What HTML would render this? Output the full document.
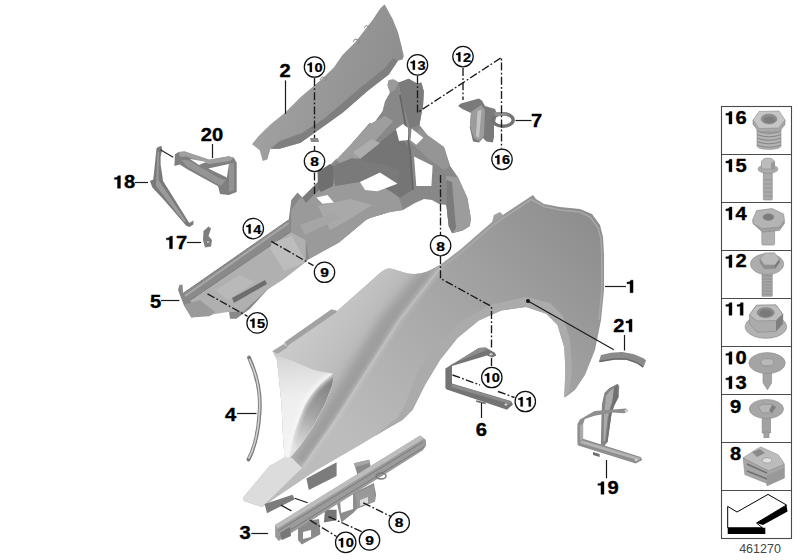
<!DOCTYPE html>
<html><head><meta charset="utf-8">
<style>
html,body{margin:0;padding:0;background:#fff;}
body{width:800px;height:560px;overflow:hidden;}
svg{display:block;}
.lb{font-family:"Liberation Sans",sans-serif;font-weight:bold;fill:#000;stroke:#000;stroke-width:0.35;}
.ln{stroke:#1a1a1a;stroke-width:1.2;fill:none;}
.dd{stroke:#1a1a1a;stroke-width:1.35;fill:none;stroke-dasharray:8 2.2 1.8 2.2;}
.cc{fill:#fff;stroke:#111;stroke-width:1.25;}
</style></head><body>
<svg width="800" height="560" viewBox="0 0 800 560">

<defs>
<filter id="blur2" x="-20%" y="-20%" width="140%" height="140%"><feGaussianBlur stdDeviation="2"/></filter>
<filter id="blur4" x="-30%" y="-30%" width="160%" height="160%"><feGaussianBlur stdDeviation="4"/></filter>
<linearGradient id="gCres" gradientUnits="userSpaceOnUse" x1="332" y1="380" x2="296" y2="450">
<stop offset="0" stop-color="#7e7e7e"/><stop offset="0.5" stop-color="#a4a4a4"/><stop offset="1" stop-color="#e0e0e0"/>
</linearGradient>
<linearGradient id="gFace" gradientUnits="userSpaceOnUse" x1="280" y1="355" x2="290" y2="460">
<stop offset="0" stop-color="#d4d4d4"/><stop offset="0.4" stop-color="#eeeeee"/><stop offset="1" stop-color="#f4f4f4"/>
</linearGradient>
<linearGradient id="gMain" gradientUnits="userSpaceOnUse" x1="600" y1="230" x2="360" y2="450">
<stop offset="0" stop-color="#8e8e8e"/><stop offset="0.45" stop-color="#a4a4a4"/><stop offset="1" stop-color="#bcbcbc"/>
</linearGradient>
<linearGradient id="gFront" gradientUnits="userSpaceOnUse" x1="375" y1="370" x2="300" y2="320">
<stop offset="0" stop-color="#b0b0b0"/><stop offset="0.5" stop-color="#c0c0c0"/><stop offset="1" stop-color="#cbcbcb"/>
</linearGradient>
<linearGradient id="gFlange" gradientUnits="userSpaceOnUse" x1="280" y1="360" x2="330" y2="470">
<stop offset="0" stop-color="#c8c8c8"/><stop offset="1" stop-color="#d9d9d9"/>
</linearGradient>
<linearGradient id="gScoop" gradientUnits="userSpaceOnUse" x1="330" y1="385" x2="300" y2="405">
<stop offset="0" stop-color="#a0a0a0"/><stop offset="0.5" stop-color="#e8e8e8"/><stop offset="1" stop-color="#ffffff"/>
</linearGradient>
<linearGradient id="gPanel" gradientUnits="userSpaceOnUse" x1="190" y1="310" x2="440" y2="100">
<stop offset="0" stop-color="#989898"/><stop offset="1" stop-color="#7c7c7c"/>
</linearGradient>
<linearGradient id="gP2" gradientUnits="userSpaceOnUse" x1="260" y1="80" x2="400" y2="120">
<stop offset="0" stop-color="#a2a2a2"/><stop offset="1" stop-color="#8c8c8c"/>
</linearGradient>
<linearGradient id="gBox" x1="0" y1="0" x2="1" y2="0">
<stop offset="0" stop-color="#8a8a8a"/><stop offset="0.45" stop-color="#c8c8c8"/><stop offset="1" stop-color="#8a8a8a"/>
</linearGradient>
</defs>

<!-- ========== Part 1 fender ========== -->
<path fill="url(#gMain)" d="M272.5,351.3 L283.1,344.4 L285,341.9 L331.3,309.4 L336.9,311.3 L380,273 C384,269.5 387,268.3 390,268.5 C395,269 400,271.5 406,273 C412,274.5 420,274.2 426,272 C432,269.5 436,267 441,264.2 L460,249.8 L492,222 L530,197 L533,195 L536,199 L544,204 L560,207 L580,209 L592,214 L600,225 L603,237 L604,255 L604,290 L601,320 L595,350 L585,375 L575,390 L565,397.5 L564.3,397 L565.4,370 L564.3,347.5 L557.5,325 L546.3,313.8 L526,307 L501.3,310.4 L478.8,320.5 L457.5,338 L440,360 L425,385 L412.5,410 L402.5,420 L385,430 L360,445 L316,470.4 L262,507 L244,501 L243,497.7 L270,465.5 L284.7,459 L283,436.5 L281.5,404 L278.3,372 L276.7,359 Z"/>
<path fill="#a0a0a0" d="M492,222 L494,215 L500,212 L504,216 L499,219 Z"/>
<path fill="none" stroke="#acacac" stroke-width="1.6" opacity="0.85" d="M442,267 L461,253 L493,225 L531,199.5 L536,202 L544,206.5 L560,210 L580,212 L590,217 L598,227.5 L601,239 L601.8,255 L601.8,290 L599,320"/>
<!-- front section left of crease -->
<path fill="url(#gFront)" d="M272.5,351.3 L283.1,344.4 L285,341.9 L331.3,309.4 L336.9,311.3 L380,273 C384,269.5 387,268.3 390,268.5 C395,269 400,271.5 406,273 C412,274.5 420,274.2 426,272 C432,269.5 436,267 441,264.2 L398.5,319.6 L366,370.6 L333.5,421.7 L301,468 L262,507 L244,501 L243,497.7 L270,465.5 L284.7,459 L283,436.5 L281.5,404 L278.3,372 L276.7,359 Z"/>
<clipPath id="cpFront"><path d="M272.5,351.3 L283.1,344.4 L285,341.9 L331.3,309.4 L336.9,311.3 L380,273 C384,269.5 387,268.3 390,268.5 C395,269 400,271.5 406,273 C412,274.5 420,274.2 426,272 C432,269.5 436,267 441,264.2 L398.5,319.6 L366,370.6 L333.5,421.7 L301,468 L262,507 L244,501 L243,497.7 L270,465.5 L284.7,459 L283,436.5 L281.5,404 L278.3,372 L276.7,359 Z"/></clipPath>
<g clip-path="url(#cpFront)">
<path fill="#8a8a8a" opacity="0.55" filter="url(#blur4)" d="M444,262 L400,322 L368,372 L336,422 L306,466 L292,462 L320,416 L350,366 L380,318 L420,270 Z"/>
</g>
<!-- crease highlight -->
<path fill="none" stroke="#c8c8c8" stroke-width="2.5" filter="url(#blur2)" d="M441,267 L399.5,320 L367,371 L334.5,422 L302,468.5"/><path fill="none" stroke="#c6c6c6" stroke-width="1" d="M441,267 L399.5,320 L367,371 L334.5,422 L302,468.5"/>
<!-- front flange light face -->
<clipPath id="cpFace"><path d="M276.7,356 L290,360 L313.9,370 L334,374 L332,386 L325,404 L313,427 L300,446 L289,459 L284.7,462 L283,436.5 L281.5,404 L278.3,372 Z"/></clipPath>
<path fill="url(#gFace)" d="M276.7,356 L290,360 L313.9,370 L334,374 L332,386 L325,404 L313,427 L300,446 L289,459 L284.7,462 L283,436.5 L281.5,404 L278.3,372 Z"/>
<g clip-path="url(#cpFace)">
<path fill="url(#gCres)" d="M336,372 L332,386 L325,404 L313,427 L300,446 L289,459 C290,445 296,425 305,405 C312,392 322,381 336,372 Z"/>
<path fill="none" stroke="#f6f6f6" stroke-width="5" opacity="0.9" filter="url(#blur2)" d="M287,458 C289,444 294,426 303,406 C310,392 320,381 334,373"/>
</g>
<!-- lower wedge -->
<path fill="#dcdcdc" d="M270,465.5 L284.4,457 L292,458 L302,468 L262,507 L244,501 L243,497.7 Z"/>
<!-- arch lip -->
<path fill="#ababab" d="M564.3,397 L565.4,370 L564.3,347.5 L557.5,325 L546.3,313.8 L526,307 L501.3,310.4 L478.8,320.5 L457.5,338 L440,360 L425,385 L412.5,410 L402.5,420 L385,430 L375,436 L397.5,417.5 L405,405 L420,367.5 L442.5,340 L460,322 L490,304.8 L526,297 L550,303 L563,316 L570,340 L572,370 L569,392 Z"/>
<!-- top flange -->
<path fill="#a2a2a2" d="M285,341.9 L331.3,309.4 L336.3,310.6 L336.9,311.9 L286.9,346.3 Z"/><path fill="#a6a6a6" d="M272.5,351.3 L283.1,344.4 L288.1,346.9 L277.5,353.8 Z"/>
<!-- dark tabs under fender bottom -->
<path fill="#7c7c7c" d="M264.6,504 L292.5,494.7 L294.8,499.3 L267,513.2 Z M306.4,478.4 L336.6,462.2 L336.6,476.1 L308.8,490 Z"/>
<!-- ========== Part 2 ========== -->
<path fill="url(#gP2)" d="M384.4,4.4 L380,8.8 L372.5,20 L366.3,28.1 L360,36.3 L355,42.5 L342.5,55 L333.8,67.5 L322,79 L300.7,97 L285.5,112.3 L270.4,124.5 L258.2,136.6 L252,144.2 L259.7,150.3 L262.8,161 L267.3,159.4 L270.4,148.8 L279.5,148.8 L300.7,142.7 L322,127.5 L343.2,112.3 L367.5,91 L388.8,74.4 L397.9,60.7 L402.5,59.4 L403.8,56.3 L401.9,47.5 L398.1,32.5 L392.5,18.8 L385,5 Z"/>
<path fill="#7f7f7f" d="M397.9,60.7 L388.8,74.4 L367.5,91 L343.2,112.3 L322,127.5 L300.7,142.7 L279.5,148.8 L270.4,148.8 L280,141 L302,133 L325,118 L360,88 L385,68 L393,58 Z"/>
<path fill="none" stroke="#8a8a8a" stroke-width="1" d="M364,28 L366,25.5 L370,27 L368,30 M353,42 L355,39 L360,40.5 L358,44 M320,80 L322,77 L327,78 L325,81"/>

<!-- ========== inner panel ========== -->
<path fill="#888888" d="M179.4,285 L182.5,284.4 L183,293 L186.3,293.8 L235,260 L288.6,220.4 L291.3,200 L297.5,192.5 L302.5,197.5 L320,180 L322.5,172.5 L336.3,158.8 L343.8,162.5 L352.5,155 L352.5,142.5 L370,122.5 L372.5,125 L382.5,111.3 L385,101.3 L390,92.5 L387.5,85 L388.8,80 L393.8,79.4 L398.8,82.5 L408.8,78.8 L412.5,81.3 L417.5,83.8 L421.3,82.5 L423.8,91.3 L423.1,105 L419.4,125 L427.8,135.5 L444,147.1 L450,165.7 L458,177.3 L467.4,198.1 L470.9,219 L469.8,226 L462.8,230.6 L452.2,233.2 L448.7,226 L446.4,205 L439,204 L432,200 L424,199 L415,203 L403,210 L390,212 L370,218 L366,220 L339,242.5 L309,259 L300,266 L285,275 L268.5,288.5 L250,308.8 L236.3,318.8 L230,318.8 L228.8,310 L213.8,313.8 L208.8,316.3 L203.8,315 L191.3,317.5 L183.8,305 L178,290 Z"/>
<!-- beam wall -->
<path fill="#8a8a8a" d="M183,293.8 L288.6,220.4 L291,232 L190,300.7 Z"/>
<path fill="none" stroke="#a8a8a8" stroke-width="2" d="M185,296 L288.6,223"/>
<path fill="none" stroke="#666" stroke-width="0.9" d="M183,293.5 L288.6,220"/>
<path fill="none" stroke="#6a6a6a" stroke-width="1" d="M190,300.7 L291,232"/>
<!-- beam floor -->
<path fill="#b0b0b0" d="M190,300.7 L291,232 L305.7,240 L305.7,262 L284,279 L267,290 L243.6,311.4 L228,312 L203,315.7 Z"/>
<path fill="#bdbdbd" d="M271.4,242.9 L292,236 L305.7,262.1 L284.3,270.7 L270.4,249.3 Z"/>
<path fill="#b9b9b9" d="M215,290 L240,275 L255,282 L228,300 Z"/>
<path fill="#6e6e6e" d="M232,298 L265,280 L267,284 L234,303 Z"/>
<path fill="#9a9a9a" d="M183.8,305 L200,300 L215,312 L208.8,316.3 L191.3,317.5 Z"/>
<!-- mid floor -->
<path fill="#9a9a9a" d="M300,198 L352,176 L398,194 L403,210 L390,212 L370,218 L366,220 L339,242.5 L309,259 L305.7,240 L291,232 L291.3,210 Z"/>
<path fill="#a9a9a9" d="M318,206 L350,199 L372,205 L345,222 L330,230 Z"/>
<path fill="#a6a6a6" d="M300,225 L335,212 L340,218 L305,235 Z"/>
<!-- dark plate -->
<path fill="#757575" d="M352,165 L395,130 L410,148 L412,190 L400,198 L372,178 Z"/>
<!-- upper ribs light -->
<path fill="#9e9e9e" d="M336,160 L352,143 L370,124 L385,116 L393,121 L376,140 L360,156 L346,167 Z"/>
<path fill="#adadad" d="M353,152 L372,139 L380,143 L360,159 Z"/>
<path fill="#7a7a7a" d="M302.5,197.5 L320,180 L324,185 L306,203 Z"/>
<!-- bracket 13 vertical plate -->
<path fill="#7b7b7b" d="M398.8,82.5 L408.8,78.8 L417.5,83.8 L421.3,82.5 L423.8,91.3 L423.1,105 L419.4,125 L410,128 L402,100 Z"/><path fill="#9a9a9a" d="M388.8,80 L393.8,79.4 L398.8,82.5 L395,90 L390,92.5 L387.5,85 Z"/>
<path fill="#959595" d="M420,128 L427.8,135.5 L444,147.1 L450,165.7 L444,170 L430,160 L408,140 Z"/>
<path fill="none" stroke="#666" stroke-width="1.8" d="M400,95 L410,150 L413,190"/>
<!-- right 8 bracket -->
<path fill="#9c9c9c" d="M446,176 L458,177.3 L467.4,198.1 L470.9,219 L469.8,226 L462.8,230.6 L452.2,233.2 L448.7,226 L446.4,205 Z"/>
<path fill="#7b7b7b" d="M446.4,180 L452,182 L456,228 L452.2,233.2 L448.7,226 L446.4,205 Z"/>
<path fill="#6f6f6f" d="M317.5,172 L330,164 L334,167 L333,186 L321,192 L318,188 Z"/>
<path fill="#7a7a7a" d="M333,166 L352,158 L385,165 L400,170 L397.5,183.8 L380,172.5 L360,182 L335,186 Z"/>
<!-- white openings -->
<path fill="#fff" d="M360,182 L380,172.5 L397.5,183.8 L377.5,191.3 L365,190 Z"/>
<path fill="#fff" d="M316.3,197.5 L327.5,195 L333.8,202.5 L322.5,203.8 Z"/>
<path fill="#fff" d="M396,129 L403,124 L408,128 L408,140 L399,141 Z"/>
<path fill="#fff" d="M411.6,128.6 L423.3,137.8 L416.3,144.8 L410.5,140.2 Z"/>
<path fill="#fff" d="M414,156.5 L432.6,165.7 L431.4,186 L416.3,186 Z"/>

<!-- ========== Part 20 ========== -->
<path fill="#7f7f7f" d="M174.9,154.3 L178.8,151.9 L184.7,151.4 L209.3,159.7 L228.9,156.3 L233.8,157.8 L236.7,162.7 L236.7,192.1 L228.9,195 L220,194.1 L218.1,186.2 L187.7,169.5 L179.8,164.6 L174.4,166.1 Z"/>
<path fill="#a0a0a0" d="M178.8,151.9 L184.7,151.4 L209.3,159.7 L228.9,156.3 L233.8,157.8 L230,161 L209,164 L186,156.5 L180,157 Z"/>
<path fill="#959595" d="M181,160 L188,160 L219,178 L226,180 L221,186 L187.7,167 Z"/>
<path fill="#fff" d="M189.6,158.7 L206,162 L199,165 Z"/>
<path fill="#fff" d="M208.3,168.6 L228.9,164.1 L226.9,177.4 Z"/>
<path fill="#939393" d="M229,163 L234,163 L234,190 L229,192 Z"/>
<!-- Part 18 -->
<path fill="#7a7a7a" d="M157.3,147.4 L161.4,145.7 L162.2,149.9 L160.6,156.4 L160.6,164.6 L163.1,181 L189.3,222.9 L193.4,220.5 L193.4,224.6 L189.3,227 L186,225.4 L164.7,200.8 L152.4,187.6 L149.9,181 L153.2,179.4 L154,172.8 L156.5,148.2 Z"/>
<path fill="#9a9a9a" d="M157.5,152 L159,152 L158.5,180 L186,221 L184,222 L156,186 Z"/>
<path d="M160.4,149.7 L173.2,157.2" stroke="#222" stroke-width="1.1"/>
<!-- Part 17 -->
<path fill="#7e7e7e" d="M203.5,231 L208.5,226.5 L211,228.5 L208.5,236 L212,240 L211,246.5 L205,247.5 L203,240 Z"/><circle cx="208" cy="242" r="1" fill="#ccc"/>

<!-- ========== Part 7 ========== -->
<path fill="#7a7a7a" d="M458,106 L460.7,103.4 L478.9,98.6 L482.1,100.7 L485,106 L495,109 L497,114 L494,126 L494,137 L492.8,142.5 L486.4,141.4 L483,138 L478.9,142.5 L473,141.4 L469.8,127.5 L471,113 L462.8,109.3 Z"/>
<path fill="#9c9c9c" d="M471,112 L481,105 L485,110 L484,136 L479,141 L474,138 L470,126 Z"/>
<path fill="#c4c4c4" d="M477.5,111 L481.5,110 L479,138 L476,136 Z"/>
<ellipse cx="503" cy="120" rx="10.2" ry="6.2" fill="none" stroke="#737373" stroke-width="3.4"/>
<path fill="#8e8e8e" d="M494,112 L503,112.2 L510,115 L504,115.5 L495,116 Z"/>
<!-- Part 21 -->
<path fill="#8a8a8a" d="M601,355 L610.8,352.8 L622,352 L633.3,353.9 L643,358 L646,360.3 L644.5,364.8 L643,367.8 L637,363.3 L625.8,359.5 L614.5,359.5 L603.3,361 L598.8,362.1 Z"/>
<path fill="none" stroke="#666" stroke-width="1.3" d="M599.5,361.5 L614.5,359 L625.8,359 L637,362.8 L643,367"/>
<!-- Part 4 -->
<path fill="none" stroke="#7c7c7c" stroke-width="3.8" stroke-linecap="round" d="M249,357.5 C257,375 261,395 259.5,413 C258.5,430 255,447 248.5,459.5"/>
<path fill="none" stroke="#d2d2d2" stroke-width="1.6" d="M249.3,359 C257,375 260.8,395 259.3,413 C258.3,430 254.8,447 248.6,458.5"/>

<!-- Part 6 -->
<path fill="#747474" d="M478.9,348 L485.6,347.4 L494.9,352.7 L496.3,355.4 L492.3,357.4 L486.9,355.4 L452,366 L452,383.5 L511,401 L513,404.5 L507,409.7 L446.7,389.6 L445.4,388 L445.4,368.5 Z"/>
<path fill="#8c8c8c" d="M478.9,348 L485.6,347.4 L487,350 L452,364 L447,368 Z M452,384 L511,401.5 L510,404 L451,387 Z"/>
<ellipse cx="491" cy="354.3" rx="1.6" ry="1.1" fill="#ddd"/>
<ellipse cx="506" cy="404.5" rx="1.6" ry="1.1" fill="#ddd"/>
<path fill="#6e6e6e" d="M476.2,400.3 L485.6,402.5 L485.6,404.3 L476.2,402 Z"/>

<!-- Part 19 -->
<path fill="#858585" d="M609.4,387.9 L617.6,383.7 L619.3,386.2 L618.5,397 L614,406 L611.5,414 L607.5,442 L604,446.5 L600.8,446.5 L601.5,416 L602,404 L604.5,392.8 Z"/>
<path fill="#aaaaaa" d="M606,396 L610,391 L614,388 L614.5,396 L610.5,406 L607.5,418 L605,441 L603.5,441 L604,416 Z"/><path fill="#707070" d="M614,388 L617.6,384.5 L618.5,397 L614,406 L611.5,414 L607.5,442 L606,443 L609,415 L612,404 Z"/>
<path fill="#8e8e8e" d="M594.6,410.9 L625.9,408.4 L628.3,410.9 L624.2,413.3 L612.7,412.5 L594.6,415.8 L584.8,419.1 L583.1,424 L583.1,439 L577.4,443.7 L577.4,424 L579.9,419.6 Z"/>
<path fill="#ababab" d="M583.1,424 L583.1,438 L580,441 L580,425 Z"/>
<path fill="#8e8e8e" d="M583.1,438.8 L640.6,456.9 L642.3,460.1 L635.7,463.4 L578.2,445.4 L577.4,443.7 Z"/>
<path fill="#b4b4b4" d="M582,440.5 L640,458 L639,460.5 L580,443 Z"/>
<path fill="#6e6e6e" d="M593,452 L599.6,454 L599.6,456.9 L593,455 Z"/>
<ellipse cx="626" cy="410.8" rx="1.5" ry="1" fill="#ddd"/>
<ellipse cx="636" cy="460" rx="1.5" ry="1" fill="#ddd"/>

<!-- ========== Part 3 rail ========== -->
<path fill="#8a8a8a" d="M298,522.5 L319,519 L320.4,534.2 L301.8,544.6 L298,540 Z"/>
<path fill="#fff" d="M303,532 L311,530 L311,537 L303,539 Z"/>
<path fill="#767676" d="M325,509.8 L336.6,509.8 L336.6,520.2 L323.9,522.5 Z"/>
<path fill="#8d8d8d" d="M336.6,501.6 L373.8,483 L376.1,494.7 L375,501.6 L357.5,508.6 L352.9,513.2 L341.3,522.5 Z"/>
<path fill="#fff" d="M340,499 L353,494 L353,509 L341,513 Z"/>
<path fill="#999" d="M355.2,493.5 L373.8,485.4 L375,501.6 L357.5,508.6 Z"/>
<path fill="#dcdcdc" d="M360,500 L368,497 L368,503 L360,506 Z"/>
<path fill="#8a8a8a" d="M354,463.3 L369.2,459.8 L371.5,470.3 L357.5,474.9 Z"/>
<path fill="#a6a6a6" d="M354,463.3 L369.2,459.8 L370,463 L355,467 Z"/>
<path fill="#9b9b9b" d="M275.1,524.9 L420.2,435.5 L426,440.1 L426,445.9 L422.6,450.5 L278.6,541.1 L275.1,536.5 Z"/>
<path fill="#bdbdbd" d="M275.1,524.9 L420.2,435.5 L424,438.5 L277.4,528.5 Z"/>
<path fill="none" stroke="#7a7a7a" stroke-width="1" d="M278,531 L423,442 M279,537 L424,447"/>
<path fill="#777" d="M280,533 L290,527 L291,536 L282,540 Z"/>
<ellipse cx="381" cy="476" rx="5" ry="3" fill="none" stroke="#7a7a7a" stroke-width="1.5"/>

<!-- ========== dash-dot lines ========== -->
<g class="dd">
<path d="M314.5,78 V138"/>
<path fill="#8a8a8a" stroke="none" d="M310,138 L318,138 L319,142 L311,142 Z"/>
<path d="M314.5,146 V151"/>
<path d="M314.5,172.5 V194"/>
<path d="M440.5,256 V278.4 L491.5,306.5 V348"/>
<path d="M440.5,175 V235"/>
<path d="M417.5,76 V112.5 L501.5,57.5 V148.5"/>
<path d="M463,68 V100"/>
<path d="M271.3,241.3 L313.5,265.7"/>
<path d="M207.5,293.8 L247.5,316.3"/>
<path d="M491.5,366 V356"/>
<path d="M452.5,375 L480,385 M498,391.5 L514.5,397.5"/>
<path d="M363.3,502.8 L391.2,516.7"/>
<path d="M309.9,520.2 L336.6,536.5"/>
<path d="M328.5,516.7 L362.2,531.8"/>

</g>

<!-- ========== leaders ========== -->
<g class="ln">
<path d="M285.5,80.4 V113.8"/>
<path d="M212.5,144.0 V158.0"/>
<path d="M135.0,182.5 H148.0"/>
<path d="M187.0,242.5 H201.0"/>
<path d="M515.5,120.5 H531.5"/>
<path d="M605.0,286.5 H626.0"/>
<path d="M161.0,300.5 H179.4"/>
<path d="M624.5,335.0 V350.5"/>
<path d="M237.0,413.5 H256.5"/>
<path d="M481.5,403.0 V418.0"/>
<path d="M606.5,460.0 V478.3"/>
<path d="M251.3,533.5 H268.1"/><path d="M280.9,505.1 L291.4,510.9 M294.8,498.2 L307.6,502.8"/>
<path d="M528,301 L613.8,349.8"/>
</g>
<circle cx="528" cy="301" r="2" fill="#111"/>

<!-- ========== parts box ========== -->
<g fill="none" stroke="#4a4a4a" stroke-width="1.1">
<rect x="721.5" y="106.5" width="70" height="432"/>
<path d="M721.5,154.5H791.5M721.5,202.5H791.5M721.5,250.5H791.5M721.5,298.5H791.5M721.5,346.5H791.5M721.5,394.5H791.5M721.5,442.5H791.5M721.5,490.5H791.5"/>
</g>
<!-- 16 nut -->
<g stroke="#8a8a8a" stroke-width="0.6">
<path fill="#b3b3b3" d="M757,127 L781,127 L781,146 C781,150.5 757,150.5 757,146 Z"/>
<path fill="none" stroke="#858585" stroke-width="1" d="M757,131 C765,134 773,134 781,131 M757,134.5 C765,137.5 773,137.5 781,134.5 M757,138 C765,141 773,141 781,138 M757,141.5 C765,144.5 773,144.5 781,141.5 M757,145 C765,148 773,148 781,145"/>
<path fill="#a9a9a9" d="M753,120 L753,124.5 L759,132 L779,132 L785,124.5 L785,120 Z"/>
<path fill="#c6c6c6" d="M753,120 L759,111.5 L779,111 L785,120 L779,128 L759,128.5 Z"/>
<ellipse cx="769" cy="119" rx="8" ry="5" fill="#8e8e8e"/>
<ellipse cx="769.5" cy="120" rx="6" ry="3.5" fill="#7d7d7d" stroke="none"/>
</g>
<!-- 15 bolt -->
<g stroke="#8a8a8a" stroke-width="0.6">
<rect x="763.3" y="172" width="9" height="28" rx="1" fill="#aaaaaa"/>
<path fill="none" stroke="#939393" stroke-width="0.8" d="M764,180h8M764,184h8M764,188h8M764,192h8M764,196h8"/>
<ellipse cx="768" cy="169" rx="10" ry="4.4" fill="#ababab"/>
<path fill="#bcbcbc" d="M761.5,161 L765,158.3 L771,158.3 L774.5,161 L774.5,169 L761.5,169 Z"/>
<path fill="#9a9a9a" stroke="none" d="M771,163 L774.5,161 L774.5,169 L771,169 Z"/>
</g>
<!-- 14 -->
<g stroke="#8a8a8a" stroke-width="0.6">
<rect x="761.8" y="226" width="12.8" height="19.1" rx="1.5" fill="#b0b0b0"/>
<path fill="#a0a0a0" d="M752.8,219.6 L753.2,223.7 L762.3,232 L779.5,230.5 L784.4,223.5 L784.4,220.4 Z"/>
<path fill="#b4b4b4" d="M752.8,219.6 L756.5,210.6 L772.1,208.5 L783.6,213.9 L784.4,220.4 L779.5,227 L762.3,228.7 L753.2,223.7 Z"/>
<ellipse cx="768.4" cy="217.1" rx="5.5" ry="3.4" fill="#7c7c7c"/>
</g>
<!-- 12 -->
<g stroke="#8a8a8a" stroke-width="0.6">
<rect x="762" y="272" width="10.2" height="24.2" fill="#a6a6a6"/>
<path fill="none" stroke="#8c8c8c" stroke-width="0.9" d="M762.5,276h9.5M762.5,279h9.5M762.5,282h9.5M762.5,285h9.5M762.5,288h9.5M762.5,291h9.5M762.5,294h9.5"/>
<ellipse cx="767.1" cy="264.1" rx="16.7" ry="10.5" fill="#adadad"/>
<path fill="#8f8f8f" d="M760,259 L764.5,265.2 L775,265 L779.4,259 L779.4,262.5 L775,268.5 L764.5,268.7 L760,262.5 Z"/>
<path fill="#777" stroke="none" d="M775,265 L779.4,259 L779.4,262.5 L775,268.5 Z"/>
<path fill="#bababa" d="M760,259 L764.5,253 L774.5,252.8 L779.4,259 L775,265 L764.5,265.2 Z"/>
</g>
<!-- 11 -->
<g stroke="#8a8a8a" stroke-width="0.6">
<ellipse cx="765.9" cy="326.7" rx="20.8" ry="11.6" fill="#b2b2b2"/>
<path fill="#ababab" d="M749.4,315.1 L756.3,305.3 L776,304.9 L782.8,314.3 L782.8,323.7 L776,331.4 L757.1,332.3 L749.4,323.7 Z"/>
<path fill="#bdbdbd" d="M749.4,315.1 L756.3,305.3 L776,304.9 L782.8,314.3 L776,320.5 L757,321 Z"/>
<path fill="#7f7f7f" stroke="none" d="M776,320.5 L782.8,314.3 L782.8,323.7 L776,331.4 Z"/>
<ellipse cx="765.7" cy="312.6" rx="8.6" ry="5.1" fill="#8a8a8a"/>
<ellipse cx="766" cy="313.4" rx="6.5" ry="3.8" fill="#7a7a7a" stroke="none"/>
</g>
<!-- 10/13 -->
<g stroke="#8a8a8a" stroke-width="0.6">
<path fill="#a3a3a3" d="M763,372 L771.6,372 L771.6,383 L767.5,389.7 L763,383 Z"/>
<ellipse cx="767.1" cy="363.1" rx="18.2" ry="10.5" fill="#a4a4a4"/>
<path fill="#b9b9b9" d="M760.4,362 L763,358.9 L772,358.9 L774.1,362 L772,365.7 L763,365.7 Z"/>
</g>
<!-- 9 -->
<g stroke="#8a8a8a" stroke-width="0.6">
<rect x="762.1" y="416" width="8.6" height="17" fill="#a2a2a2"/>
<rect x="763.9" y="432" width="5.1" height="5.7" fill="#a2a2a2"/>
<ellipse cx="766.4" cy="409" rx="17.1" ry="9.6" fill="#a7a7a7"/>
<path fill="#b6b6b6" d="M758.7,407 L762,404.3 L772,404.3 L775.8,407 L772,412.9 L762,412.9 Z"/>
<path fill="#7e7e7e" stroke="none" d="M772,405 L775.8,407 L772,412.9 L769,411 Z"/>
</g>
<!-- 8 clip -->
<g stroke="#8a8a8a" stroke-width="0.6">
<path fill="#a6a6a6" d="M743.1,457.9 L744.9,474.6 L766.3,483.1 L767.1,485.7 L784.3,478 L784.3,464.3 L768.8,470.7 Z"/>
<path fill="#bcbcbc" d="M743.1,457.9 L757.7,448.4 L761.1,447.1 L778.3,454.9 L782.6,460.9 L784.3,464.3 L768.8,470.7 L763.7,468.6 Z"/>
<path fill="#8a8a8a" stroke="none" d="M752,452 L760,449 L765,453 L757,457 Z"/>
<ellipse cx="767.1" cy="460.4" rx="4.5" ry="2.6" fill="#e0e0e0"/>
<path fill="none" stroke="#6e6e6e" stroke-width="1.4" d="M747,464 L767,473 M747,471 L767,479"/>
<path fill="#999" stroke="none" d="M767,475 L784.3,468 L784.3,478 L767.1,485.7 Z"/>
</g>
<path d="M727.7,506.4 L737,512 L768,494.4 L786.5,505 L756.5,523 L762.5,527.8 L727.7,527.8 Z" fill="#fff" stroke="#000" stroke-width="1"/>
<path d="M786.5,505 L787.5,511.5 L763,525 L756.5,523 Z" fill="#000"/>
<path d="M727.7,527.8 L765.3,527.8 L765.3,534 L727.7,534 Z" fill="#000"/>
<text x="760" y="552.5" font-family="Liberation Sans, sans-serif" font-size="12.5" fill="#444" text-anchor="middle">461270</text>

<text transform="translate(285.00,76.56) scale(1.15,1)" text-anchor="middle" class="lb" style="stroke-width:0.35" font-size="17.5">2</text>
<text transform="translate(206.41,141.26) scale(1.15,1)" text-anchor="middle" class="lb" style="stroke-width:0.35" font-size="17.5">2</text>
<text transform="translate(217.59,141.26) scale(1.15,1)" text-anchor="middle" class="lb" style="stroke-width:0.35" font-size="17.5">0</text>
<path transform="translate(112.81,188.26) scale(0.02013,-0.01750)" d="M380,0 L380,719 L262,719 C248,652 200,612 78,606 L78,508 L232,508 L232,0 Z" fill="#000" stroke="#000" stroke-width="20.0"/>
<text transform="translate(129.59,188.26) scale(1.15,1)" text-anchor="middle" class="lb" style="stroke-width:0.35" font-size="17.5">8</text>
<path transform="translate(164.81,248.76) scale(0.02013,-0.01750)" d="M380,0 L380,719 L262,719 C248,652 200,612 78,606 L78,508 L232,508 L232,0 Z" fill="#000" stroke="#000" stroke-width="20.0"/>
<text transform="translate(181.59,248.76) scale(1.15,1)" text-anchor="middle" class="lb" style="stroke-width:0.35" font-size="17.5">7</text>
<text transform="translate(536.50,127.27) scale(1.15,1)" text-anchor="middle" class="lb" style="stroke-width:0.35" font-size="17.5">7</text>
<path transform="translate(625.41,292.76) scale(0.02013,-0.01750)" d="M380,0 L380,719 L262,719 C248,652 200,612 78,606 L78,508 L232,508 L232,0 Z" fill="#000" stroke="#000" stroke-width="20.0"/>
<text transform="translate(155.50,307.66) scale(1.15,1)" text-anchor="middle" class="lb" style="stroke-width:0.35" font-size="17.5">5</text>
<text transform="translate(618.81,331.87) scale(1.15,1)" text-anchor="middle" class="lb" style="stroke-width:0.35" font-size="17.5">2</text>
<path transform="translate(624.40,331.87) scale(0.02013,-0.01750)" d="M380,0 L380,719 L262,719 C248,652 200,612 78,606 L78,508 L232,508 L232,0 Z" fill="#000" stroke="#000" stroke-width="20.0"/>
<text transform="translate(230.50,420.56) scale(1.15,1)" text-anchor="middle" class="lb" style="stroke-width:0.35" font-size="17.5">4</text>
<text transform="translate(481.40,435.96) scale(1.15,1)" text-anchor="middle" class="lb" style="stroke-width:0.35" font-size="17.5">6</text>
<path transform="translate(596.31,494.26) scale(0.02013,-0.01750)" d="M380,0 L380,719 L262,719 C248,652 200,612 78,606 L78,508 L232,508 L232,0 Z" fill="#000" stroke="#000" stroke-width="20.0"/>
<text transform="translate(613.09,494.26) scale(1.15,1)" text-anchor="middle" class="lb" style="stroke-width:0.35" font-size="17.5">9</text>
<text transform="translate(245.00,539.37) scale(1.15,1)" text-anchor="middle" class="lb" style="stroke-width:0.35" font-size="17.5">3</text>
<circle class="cc" cx="314.5" cy="67" r="10.2"/>
<path transform="translate(306.40,71.95) scale(0.01456,-0.01300)" d="M380,0 L380,719 L262,719 C248,652 200,612 78,606 L78,508 L232,508 L232,0 Z" fill="#000" stroke="#000" stroke-width="19.2"/>
<text transform="translate(318.55,71.95) scale(1.12,1)" text-anchor="middle" class="lb" style="stroke-width:0.25" font-size="13">0</text>
<circle class="cc" cx="417.5" cy="64.8" r="10.2"/>
<path transform="translate(409.40,69.75) scale(0.01456,-0.01300)" d="M380,0 L380,719 L262,719 C248,652 200,612 78,606 L78,508 L232,508 L232,0 Z" fill="#000" stroke="#000" stroke-width="19.2"/>
<text transform="translate(421.55,69.75) scale(1.12,1)" text-anchor="middle" class="lb" style="stroke-width:0.25" font-size="13">3</text>
<circle class="cc" cx="463" cy="56.6" r="10.2"/>
<path transform="translate(454.90,61.55) scale(0.01456,-0.01300)" d="M380,0 L380,719 L262,719 C248,652 200,612 78,606 L78,508 L232,508 L232,0 Z" fill="#000" stroke="#000" stroke-width="19.2"/>
<text transform="translate(467.05,61.55) scale(1.12,1)" text-anchor="middle" class="lb" style="stroke-width:0.25" font-size="13">2</text>
<circle class="cc" cx="502" cy="159.3" r="10.2"/>
<path transform="translate(493.90,164.25) scale(0.01456,-0.01300)" d="M380,0 L380,719 L262,719 C248,652 200,612 78,606 L78,508 L232,508 L232,0 Z" fill="#000" stroke="#000" stroke-width="19.2"/>
<text transform="translate(506.05,164.25) scale(1.12,1)" text-anchor="middle" class="lb" style="stroke-width:0.25" font-size="13">6</text>
<circle class="cc" cx="314.5" cy="161.3" r="10.2"/>
<text transform="translate(314.50,166.25) scale(1.2,1)" text-anchor="middle" class="lb" style="stroke-width:0.25" font-size="13">8</text>
<circle class="cc" cx="440.6" cy="245.6" r="10.2"/>
<text transform="translate(440.60,250.55) scale(1.2,1)" text-anchor="middle" class="lb" style="stroke-width:0.25" font-size="13">8</text>
<circle class="cc" cx="253.3" cy="228.6" r="10.2"/>
<path transform="translate(245.20,233.55) scale(0.01456,-0.01300)" d="M380,0 L380,719 L262,719 C248,652 200,612 78,606 L78,508 L232,508 L232,0 Z" fill="#000" stroke="#000" stroke-width="19.2"/>
<text transform="translate(257.35,233.55) scale(1.12,1)" text-anchor="middle" class="lb" style="stroke-width:0.25" font-size="13">4</text>
<circle class="cc" cx="324.5" cy="272.3" r="10.2"/>
<text transform="translate(324.50,277.25) scale(1.2,1)" text-anchor="middle" class="lb" style="stroke-width:0.25" font-size="13">9</text>
<circle class="cc" cx="257.1" cy="322.9" r="10.2"/>
<path transform="translate(249.00,327.85) scale(0.01456,-0.01300)" d="M380,0 L380,719 L262,719 C248,652 200,612 78,606 L78,508 L232,508 L232,0 Z" fill="#000" stroke="#000" stroke-width="19.2"/>
<text transform="translate(261.15,327.85) scale(1.12,1)" text-anchor="middle" class="lb" style="stroke-width:0.25" font-size="13">5</text>
<circle class="cc" cx="491.8" cy="377.5" r="10.2"/>
<path transform="translate(483.70,382.45) scale(0.01456,-0.01300)" d="M380,0 L380,719 L262,719 C248,652 200,612 78,606 L78,508 L232,508 L232,0 Z" fill="#000" stroke="#000" stroke-width="19.2"/>
<text transform="translate(495.85,382.45) scale(1.12,1)" text-anchor="middle" class="lb" style="stroke-width:0.25" font-size="13">0</text>
<circle class="cc" cx="525.3" cy="401.5" r="10.2"/>
<path transform="translate(517.20,406.45) scale(0.01456,-0.01300)" d="M380,0 L380,719 L262,719 C248,652 200,612 78,606 L78,508 L232,508 L232,0 Z" fill="#000" stroke="#000" stroke-width="19.2"/>
<path transform="translate(525.30,406.45) scale(0.01456,-0.01300)" d="M380,0 L380,719 L262,719 C248,652 200,612 78,606 L78,508 L232,508 L232,0 Z" fill="#000" stroke="#000" stroke-width="19.2"/>
<circle class="cc" cx="399.2" cy="522.4" r="10.2"/>
<text transform="translate(399.20,527.35) scale(1.2,1)" text-anchor="middle" class="lb" style="stroke-width:0.25" font-size="13">8</text>
<circle class="cc" cx="345.7" cy="542.4" r="10.2"/>
<path transform="translate(337.60,547.35) scale(0.01456,-0.01300)" d="M380,0 L380,719 L262,719 C248,652 200,612 78,606 L78,508 L232,508 L232,0 Z" fill="#000" stroke="#000" stroke-width="19.2"/>
<text transform="translate(349.75,547.35) scale(1.12,1)" text-anchor="middle" class="lb" style="stroke-width:0.25" font-size="13">0</text>
<circle class="cc" cx="369.5" cy="539.9" r="10.2"/>
<text transform="translate(369.50,544.85) scale(1.2,1)" text-anchor="middle" class="lb" style="stroke-width:0.25" font-size="13">9</text>
<path transform="translate(724.31,124.06) scale(0.02013,-0.01750)" d="M380,0 L380,719 L262,719 C248,652 200,612 78,606 L78,508 L232,508 L232,0 Z" fill="#000" stroke="#000" stroke-width="20.0"/>
<text transform="translate(741.09,124.06) scale(1.15,1)" text-anchor="middle" class="lb" style="stroke-width:0.35" font-size="17.5">6</text>
<path transform="translate(724.31,171.86) scale(0.02013,-0.01750)" d="M380,0 L380,719 L262,719 C248,652 200,612 78,606 L78,508 L232,508 L232,0 Z" fill="#000" stroke="#000" stroke-width="20.0"/>
<text transform="translate(741.09,171.86) scale(1.15,1)" text-anchor="middle" class="lb" style="stroke-width:0.35" font-size="17.5">5</text>
<path transform="translate(724.31,219.66) scale(0.02013,-0.01750)" d="M380,0 L380,719 L262,719 C248,652 200,612 78,606 L78,508 L232,508 L232,0 Z" fill="#000" stroke="#000" stroke-width="20.0"/>
<text transform="translate(741.09,219.66) scale(1.15,1)" text-anchor="middle" class="lb" style="stroke-width:0.35" font-size="17.5">4</text>
<path transform="translate(724.31,267.46) scale(0.02013,-0.01750)" d="M380,0 L380,719 L262,719 C248,652 200,612 78,606 L78,508 L232,508 L232,0 Z" fill="#000" stroke="#000" stroke-width="20.0"/>
<text transform="translate(741.09,267.46) scale(1.15,1)" text-anchor="middle" class="lb" style="stroke-width:0.35" font-size="17.5">2</text>
<path transform="translate(724.31,315.26) scale(0.02013,-0.01750)" d="M380,0 L380,719 L262,719 C248,652 200,612 78,606 L78,508 L232,508 L232,0 Z" fill="#000" stroke="#000" stroke-width="20.0"/>
<path transform="translate(735.50,315.26) scale(0.02013,-0.01750)" d="M380,0 L380,719 L262,719 C248,652 200,612 78,606 L78,508 L232,508 L232,0 Z" fill="#000" stroke="#000" stroke-width="20.0"/>
<path transform="translate(724.31,364.26) scale(0.02013,-0.01750)" d="M380,0 L380,719 L262,719 C248,652 200,612 78,606 L78,508 L232,508 L232,0 Z" fill="#000" stroke="#000" stroke-width="20.0"/>
<text transform="translate(741.09,364.26) scale(1.15,1)" text-anchor="middle" class="lb" style="stroke-width:0.35" font-size="17.5">0</text>
<path transform="translate(724.31,388.76) scale(0.02013,-0.01750)" d="M380,0 L380,719 L262,719 C248,652 200,612 78,606 L78,508 L232,508 L232,0 Z" fill="#000" stroke="#000" stroke-width="20.0"/>
<text transform="translate(741.09,388.76) scale(1.15,1)" text-anchor="middle" class="lb" style="stroke-width:0.35" font-size="17.5">3</text>
<text transform="translate(735.50,412.76) scale(1.15,1)" text-anchor="middle" class="lb" style="stroke-width:0.35" font-size="17.5">9</text>
<text transform="translate(735.50,460.06) scale(1.15,1)" text-anchor="middle" class="lb" style="stroke-width:0.35" font-size="17.5">8</text>
</svg>
</body></html>
